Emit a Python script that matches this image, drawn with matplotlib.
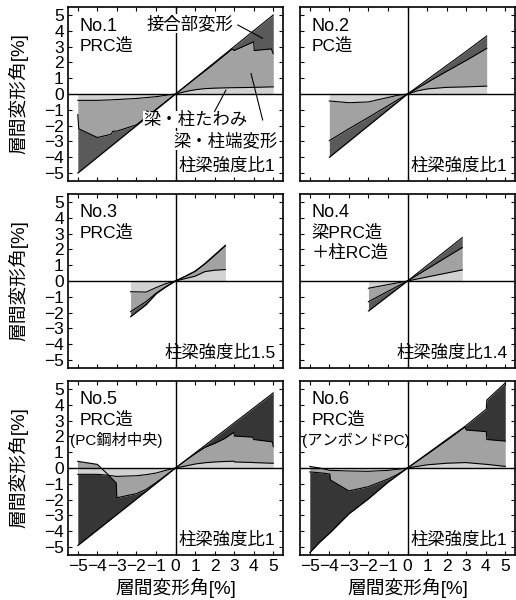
import matplotlib
matplotlib.use("Agg")
import matplotlib.pyplot as plt

plt.rcParams["font.family"] = ["Liberation Sans", "Noto Sans CJK JP"]
plt.rcParams["axes.unicode_minus"] = True

# ---- data (story drift [%]) ----
# each panel: drift x, total, deflection+end boundary, deflection boundary
p1_x = [-5.0, -4.95, -4.0, -3.3, -3.2, -3.0, -2.0, -1.0, -0.5, 0, 0.5, 1.0, 1.5, 2.0, 2.9, 3.0, 4.0, 4.03, 4.9, 5.0]
p1_total = [-5.0, -4.95, -4.0, -3.3, -3.2, -3.0, -2.0, -1.0, -0.5, 0, 0.5, 1.0, 1.5, 2.0, 2.9, 3.0, 4.0, 4.03, 4.9, 5.0]
p1_end = [-1.3, -2.2, -2.75, -2.55, -2.35, -2.35, -1.95, -0.97, -0.48, 0, 0.48, 0.97, 1.45, 1.94, 2.85, 2.75, 3.3, 2.75, 2.85, 2.55]
p1_defl = [-0.4, -0.4, -0.4, -0.37, -0.36, -0.35, -0.28, -0.17, -0.08, 0, 0.15, 0.27, 0.34, 0.37, 0.4, 0.4, 0.42, 0.42, 0.45, 0.45]

p2_x = [-4.0, -3.0, -2.0, -1.0, -0.5, 0, 0.5, 1.0, 2.0, 3.0, 4.05]
p2_total = [-4.0, -3.0, -2.0, -1.0, -0.5, 0, 0.45, 0.9, 1.8, 2.7, 3.67]
p2_end = [-2.95, -2.2, -1.48, -0.74, -0.37, 0, 0.36, 0.72, 1.43, 2.12, 2.88]
p2_defl = [-0.44, -0.55, -0.5, -0.22, -0.08, 0, 0.2, 0.32, 0.42, 0.45, 0.5]

p3_x = [-2.3, -1.5, -1.0, -0.5, 0, 0.5, 1.0, 1.5, 2.0, 2.55]
p3_total = [-2.26, -1.5, -0.82, -0.38, 0, 0.3, 0.62, 1.1, 1.65, 2.26]
p3_end = [-1.94, -1.3, -0.78, -0.37, 0, 0.29, 0.6, 1.07, 1.61, 2.22]
p3_defl = [-0.68, -0.7, -0.42, -0.17, 0, 0.15, 0.3, 0.59, 0.68, 0.72]

p4_x = [-2.0, 0, 2.8]
p4_total = [-1.9, 0, 2.74]
p4_end = [-1.31, 0, 2.11]
p4_defl = [-0.46, 0, 0.7]

p5_x = [-5.0, -4.0, -3.5, -3.03, -3.0, -2.0, -1.5, -1.0, -0.5, 0, 0.5, 1.0, 1.5, 2.0, 2.5, 2.98, 3.02, 3.95, 4.0, 4.95, 5.0]
p5_total = [-4.9, -3.92, -3.43, -2.97, -2.94, -1.96, -1.47, -0.98, -0.49, 0, 0.47, 0.95, 1.42, 1.9, 2.37, 2.83, 2.87, 3.75, 3.8, 4.7, 4.75]
p5_end = [0.42, 0.23, -0.36, -0.95, -1.88, -1.62, -1.35, -0.93, -0.47, 0, 0.46, 0.9, 1.3, 1.55, 1.85, 2.25, 2.02, 1.95, 1.8, 1.65, 1.35]
p5_defl = [-0.4, -0.4, -0.45, -0.53, -0.53, -0.49, -0.42, -0.32, -0.15, 0, 0.12, 0.25, 0.33, 0.38, 0.41, 0.43, 0.38, 0.35, 0.34, 0.3, 0.3]

p6_x = [-5.0, -4.5, -3.97, -3.95, -3.0, -2.0, -1.0, -0.5, 0, 0.5, 1.0, 2.0, 2.95, 3.0, 4.03, 4.06, 5.0]
p6_total = [-5.35, -4.7, -4.1, -4.08, -2.9, -1.95, -0.9, -0.45, 0, 0.45, 0.9, 1.8, 2.64, 2.69, 3.72, 4.3, 5.38]
p6_end = [-0.25, -0.3, -0.38, -0.75, -1.45, -1.18, -0.7, -0.4, 0, 0.43, 0.86, 1.74, 2.6, 2.4, 2.3, 1.8, 1.7]
p6_defl = [0.1, 0.0, -0.15, -0.15, -0.19, -0.21, -0.15, -0.08, 0, 0.1, 0.2, 0.3, 0.34, 0.34, 0.23, 0.23, 0.1]

titles = ["No.1", "No.2", "No.3", "No.4", "No.5", "No.6"]
subtitles = [["PRC造"], ["PC造"], ["PRC造"], ["梁PRC造", "＋柱RC造"],
             ["PRC造", "(PC鋼材中央)"], ["PRC造", "(アンボンドPC)"]]
ratios = ["柱梁強度比1", "柱梁強度比1", "柱梁強度比1.5", "柱梁強度比1.4",
          "柱梁強度比1", "柱梁強度比1"]
ticks = [-5, -4, -3, -2, -1, 0, 1, 2, 3, 4, 5]
axis_label = "層間変形角[%]"

panels = [
    (p1_x, p1_total, p1_end, p1_defl),
    (p2_x, p2_total, p2_end, p2_defl),
    (p3_x, p3_total, p3_end, p3_defl),
    (p4_x, p4_total, p4_end, p4_defl),
    (p5_x, p5_total, p5_end, p5_defl),
    (p6_x, p6_total, p6_end, p6_defl),
]

# Colors
light = "#d2d2d2"
mid = "#a2a2a2"
dark_colors = ["#5a5a5a", "#5a5a5a", "#5a5a5a", "#5a5a5a", "#363636", "#363636"]

fig = plt.figure(figsize=(5.16, 6.0), dpi=100)

lefts = [0.1318, 0.5814]
bottoms = [0.6983, 0.3867, 0.075]
w, h = 0.4167, 0.29

for i, (x, tot, end, defl) in enumerate(panels):
    row, col = divmod(i, 2)
    ax = fig.add_axes([lefts[col], bottoms[row], w, h])

    ax.fill_between(x, end, tot, color=dark_colors[i], lw=0)
    ax.fill_between(x, defl, end, color=mid, lw=0)
    ax.fill_between(x, 0, defl, color=light, lw=0)
    for s in (tot, end, defl):
        ax.plot(x, s, color="k", lw=0.8)

    ax.axhline(0, color="k", lw=1.0, zorder=3)
    ax.axvline(0, color="k", lw=1.0, zorder=3)

    ax.set_xlim(-5.5, 5.5)
    ax.set_ylim(-5.5, 5.5)
    ax.set_xticks(ticks)
    ax.set_yticks(ticks)
    ax.tick_params(direction="in", top=True, right=True, length=3, width=0.8,
                   labelsize=12.5, pad=3)
    for sp in ax.spines.values():
        sp.set_linewidth(1.2)

    if col == 0:
        ax.set_ylabel(axis_label, fontsize=13.5)
        ax.yaxis.set_label_coords(-0.186, 0.5)
    else:
        ax.tick_params(labelleft=False)
    if row == 2:
        ax.set_xlabel(axis_label, fontsize=13.5, va="center")
        ax.xaxis.set_label_coords(0.5, -0.19)
    else:
        ax.tick_params(labelbottom=False)

    ax.text(0.055, 0.865, titles[i], transform=ax.transAxes, fontsize=13,
            va="baseline")
    sub_y = [0.75, 0.635]
    for k, s in enumerate(subtitles[i]):
        fs = 11 if s.startswith("(") else 12.5
        xx = 0.008 if s.startswith("(") else 0.055
        ax.text(xx, sub_y[k], s, transform=ax.transAxes, fontsize=fs,
                va="baseline")
    ax.text(0.965, 0.06, ratios[i], transform=ax.transAxes, fontsize=12.5,
            ha="right", va="baseline")

    if i == 0:
        box = dict(facecolor="white", edgecolor="none", pad=0.5)
        ax.text(0.73, 4.46, "接合部変形", fontsize=12.5, ha="center",
                va="center", bbox=box)
        ax.text(1.04, -1.61, "梁・柱たわみ", fontsize=12.5, ha="center",
                va="center", bbox=box)
        ax.text(2.57, -2.94, "梁・柱端変形", fontsize=12.5, ha="center",
                va="center", bbox=box)
        line = dict(arrowstyle="-", lw=0.8, color="k", shrinkA=0, shrinkB=0)
        ax.annotate("", xy=(4.46, 3.52), xytext=(3.18, 4.37), arrowprops=line)
        ax.annotate("", xy=(2.58, 0.25), xytext=(1.99, -1.12), arrowprops=line)
        ax.annotate("", xy=(3.86, 1.31), xytext=(4.46, -1.65), arrowprops=line)

fig.savefig("out.png", dpi=100)
